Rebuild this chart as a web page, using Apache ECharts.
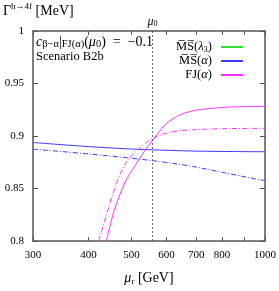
<!DOCTYPE html>
<html><head><meta charset="utf-8">
<script src="https://cdn.jsdelivr.net/npm/echarts@6/dist/echarts.min.js"></script>
<style>html,body{margin:0;padding:0;background:#fff}#c{width:279px;height:291px}</style>
</head><body><div id="c"></div>
<script>
// ---- data ----
const xTickValues = [300, 400, 500, 600, 700, 800, 900, 1000];
const xLabelValues = [300, 400, 500, 600, 700, 800, 1000];
const yMin = 0.8, yMax = 1, yStep = 0.05;
const mu0 = 558;

const msLambdaX = [];
const msLambdaY = [];

const msAlphaX = [300, 400, 500, 578, 700, 850, 1000];
const msAlphaY = [0.8938, 0.8899, 0.8876, 0.8866, 0.8856, 0.8852, 0.8850];

const msAlphaDdX = [300, 403, 495, 578, 630, 687, 816, 969, 1000];
const msAlphaDdY = [0.8875, 0.8828, 0.8790, 0.8757, 0.8735, 0.8710, 0.8647, 0.8585, 0.8575];

const fjX = [439, 458, 483, 508, 535, 563, 593, 625, 658, 705, 760, 809, 900, 1000];
const fjY = [0.800, 0.8303, 0.8553, 0.8710, 0.8855, 0.8980, 0.9100, 0.9173, 0.9217, 0.9248, 0.9263, 0.9273, 0.9280, 0.9283];

const fjDdX = [422, 443, 466, 491, 526, 545, 563, 593, 636, 693, 809, 1000];
const fjDdY = [0.800, 0.8303, 0.8586, 0.8772, 0.8897, 0.8950, 0.8983, 0.9022, 0.9048, 0.9060, 0.9070, 0.9073];

const zip = (xs, ys) => xs.map((x, i) => [x, ys[i]]);

const FONT = 'Liberation Serif';
const AX = '#555';
const BLUE = '#3a3aff', MAG = '#ff30ff', GREEN = '#30e030';
const DASHDOT = [5, 2, 1, 2];

const chart = echarts.init(document.getElementById('c'), null, {renderer: 'canvas'});

const xBase = {
  type: 'log', logBase: 10, min: 300, max: 1000,
  axisLine: {show: true, lineStyle: {color: AX, width: 1.5}},
  splitLine: {show: false},
  minorTick: {show: false},
};
const yBase = {
  type: 'value', min: yMin, max: yMax, interval: yStep,
  axisLine: {show: true, lineStyle: {color: AX, width: 1.5}},
  splitLine: {show: false},
};

chart.setOption({
  animation: false,
  backgroundColor: '#fff',
  grid: {left: 33, right: 13, top: 31, bottom: 47},
  xAxis: [
    Object.assign({}, xBase, {
      position: 'bottom',
      name: '{i|μ}{sub|r} [GeV]', nameLocation: 'middle', nameGap: 30,
      nameTextStyle: {fontFamily: FONT, fontSize: 14, color: '#000',
        rich: {i: {fontStyle: 'italic', fontFamily: FONT, fontSize: 14}, sub: {fontSize: 9, fontFamily: FONT, verticalAlign: 'bottom', padding: [6, 0, 0, 0]}}},
      axisTick: {show: true, inside: true, length: 4, customValues: xTickValues, lineStyle: {color: AX}},
      axisLabel: {show: true, customValues: xLabelValues, margin: 9, fontFamily: FONT, fontSize: 11, color: '#000',
        formatter: v => String(Math.round(v))}
    }),
    Object.assign({}, xBase, {
      position: 'top',
      axisTick: {show: true, inside: true, length: 4, customValues: xTickValues, lineStyle: {color: AX}},
      axisLabel: {show: false}
    })
  ],
  yAxis: [
    Object.assign({}, yBase, {
      position: 'left',
      axisTick: {show: true, inside: true, length: 5, lineStyle: {color: AX}},
      axisLabel: {show: true, margin: 9, fontFamily: FONT, fontSize: 11, color: '#000',
        formatter: v => String(+v.toFixed(2))}
    }),
    Object.assign({}, yBase, {
      position: 'right',
      axisTick: {show: true, inside: true, length: 5, lineStyle: {color: AX}},
      axisLabel: {show: false}
    })
  ],
  legend: {
    orient: 'vertical', right: 31, top: 35, align: 'right',
    icon: 'rect', itemWidth: 22, itemHeight: 2, itemGap: 0,
    data: ['MSl', 'MSa', 'FJa'],
    formatter: n => ({
      MSl: '{n|M\u0305S\u0305(}{i|λ}{sub|3}{n|)}',
      MSa: '{n|M\u0305S\u0305(}{i|α}{n|)}',
      FJa: '{n|FJ(}{i|α}{n|)}'
    })[n],
    textStyle: {fontFamily: FONT, fontSize: 12.5, color: '#000', lineHeight: 14, padding: [0, 4, 0, 0],
      rich: {
        n: {fontFamily: FONT, fontSize: 12.5, lineHeight: 14},
        i: {fontFamily: FONT, fontSize: 12.5, fontStyle: 'italic', lineHeight: 14},
        sub: {fontFamily: FONT, fontSize: 8.5, verticalAlign: 'bottom', lineHeight: 14, padding: [5, 0, 0, 0]}
      }}
  },
  graphic: [
    {type: 'text', left: 3, top: 2, style: {
      text: '{g|Γ}{sup|h→4f}{n| [MeV]}',
      fill: '#000',
      rich: {
        g: {fontFamily: FONT, fontSize: 14, lineHeight: 18},
        sup: {fontFamily: FONT, fontSize: 9, verticalAlign: 'top', lineHeight: 18, padding: [0, 0, 6, 0]},
        n: {fontFamily: FONT, fontSize: 14, lineHeight: 18}
      }}},
    {type: 'text', left: 36, top: 34, style: {
      text: '{i|c}{sub|β−α}{n||}{sub|FJ(α)}{n|(}{i|μ}{sub|0}{n|)  =  −0.1}',
      fill: '#000',
      rich: {
        i: {fontFamily: FONT, fontSize: 14, fontStyle: 'italic', lineHeight: 16},
        n: {fontFamily: FONT, fontSize: 14, lineHeight: 16},
        sub: {fontFamily: FONT, fontSize: 10.5, verticalAlign: 'bottom', lineHeight: 16, padding: [5, 0, 0, 0]}
      }}},
    {type: 'text', left: 36, top: 50, style: {
      text: 'Scenario B2b', fill: '#000', fontFamily: FONT, fontSize: 12.5}}
  ],
  series: [
    {name: 'MSl', type: 'line', data: zip(msLambdaX, msLambdaY), showSymbol: false, color: GREEN,
      lineStyle: {width: 1, color: GREEN}},
    {name: 'MSa', type: 'line', data: zip(msAlphaX, msAlphaY), showSymbol: false, smooth: 0.3, color: BLUE,
      lineStyle: {width: 1, color: BLUE},
      markLine: {silent: true, symbol: 'none', animation: false,
        lineStyle: {color: '#444', width: 0.8, type: [2, 2]},
        label: {show: true, position: 'end', distance: 3, formatter: '{i|μ}{sub|0}',
          rich: {i: {fontFamily: FONT, fontSize: 12, fontStyle: 'italic', color: '#000'},
                 sub: {fontFamily: FONT, fontSize: 8, color: '#000', verticalAlign: 'bottom', padding: [5, 0, 0, 0]}}},
        data: [{xAxis: mu0}]}},
    {name: 'FJa', type: 'line', data: zip(fjX, fjY), showSymbol: false, smooth: 0.3, color: MAG,
      lineStyle: {width: 1, color: MAG}},
    {name: 'MSa-dd', type: 'line', data: zip(msAlphaDdX, msAlphaDdY), showSymbol: false, smooth: 0.3, color: BLUE,
      lineStyle: {width: 1, color: BLUE, type: DASHDOT}},
    {name: 'FJa-dd', type: 'line', data: zip(fjDdX, fjDdY), showSymbol: false, smooth: 0.3, color: MAG,
      lineStyle: {width: 1, color: MAG, type: DASHDOT}}
  ]
});
</script>
</body></html>
